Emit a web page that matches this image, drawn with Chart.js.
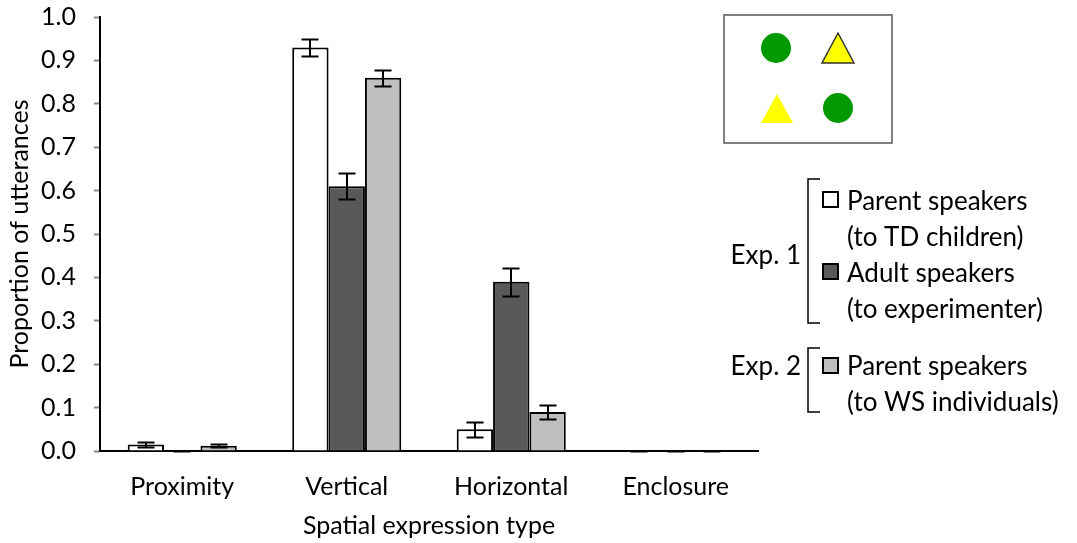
<!DOCTYPE html>
<html>
<head>
<meta charset="utf-8">
<script src="https://cdn.jsdelivr.net/npm/chart.js@4/dist/chart.umd.min.js"></script>
<style>
  html, body { margin: 0; padding: 0; background: #ffffff; }
  #wrap { width: 1077px; height: 543px; position: relative; }
</style>
</head>
<body>
<div id="wrap"><canvas id="c" width="1077" height="543"></canvas></div>
<script>
// Spatial expression types on the x axis
const categories = ['Proximity', 'Vertical', 'Horizontal', 'Enclosure'];

// Exp. 1: parent speakers talking to TD children
const parentTD = [0.015, 0.93, 0.05, 0];
const parentTDErr = [0.005, 0.019, 0.017, 0];

// Exp. 1: adult speakers talking to the experimenter
const adultExp = [0.001, 0.61, 0.39, 0];
const adultExpErr = [0, 0.03, 0.032, 0];

// Exp. 2: parent speakers talking to WS individuals
const parentWS = [0.012, 0.86, 0.09, 0];
const parentWSErr = [0.003, 0.018, 0.016, 0];

// y tick labels
const yTicks = ['0.0', '0.1', '0.2', '0.3', '0.4', '0.5', '0.6', '0.7', '0.8', '0.9', '1.0'];

// key text
const keyNames = ['Parent speakers', 'Adult speakers', 'Parent speakers'];
const keySubs = ['(to TD children)', '(to experimenter)', '(to WS individuals)'];
const keyGroups = ['Exp. 1', 'Exp. 2'];

const FONT = 'Lato, "Open Sans", sans-serif';
const fills = ['#ffffff', '#595959', '#bfbfbf'];

// error whiskers with caps drawn on top of every bar
const errorBars = {
  id: 'errorBars',
  afterDatasetsDraw(chart) {
    const ctx = chart.ctx;
    const y = chart.scales.y;
    ctx.save();
    ctx.strokeStyle = '#000';
    ctx.lineWidth = 2;
    chart.data.datasets.forEach((ds, i) => {
      const meta = chart.getDatasetMeta(i);
      meta.data.forEach((bar, j) => {
        const v = ds.data[j];
        const e = ds.errors[j];
        const top = Math.round(y.getPixelForValue(v + e)) + 0.5;
        const bot = Math.round(y.getPixelForValue(Math.max(0, v - e))) + 0.5;
        const x = Math.round(bar.x);
        const half = 8.5;
        ctx.beginPath();
        ctx.moveTo(x, top); ctx.lineTo(x, bot);
        ctx.moveTo(x - half, top); ctx.lineTo(x + half, top);
        ctx.moveTo(x - half, bot); ctx.lineTo(x + half, bot);
        ctx.stroke();
      });
    });
    ctx.restore();
  }
};

// bracketed key on the right and the stimulus inset above it
const sideNotes = {
  id: 'sideNotes',
  afterDraw(chart) {
    const ctx = chart.ctx;
    ctx.save();

    // stimulus inset
    ctx.strokeStyle = '#808080';
    ctx.lineWidth = 2;
    ctx.strokeRect(724, 15, 168, 128);
    ctx.fillStyle = '#009900';
    ctx.beginPath(); ctx.arc(776, 48, 15, 0, Math.PI * 2); ctx.fill();
    ctx.beginPath(); ctx.arc(838, 108, 15, 0, Math.PI * 2); ctx.fill();
    ctx.fillStyle = '#ffff00';
    ctx.beginPath(); ctx.moveTo(838, 33); ctx.lineTo(854, 63); ctx.lineTo(822, 63); ctx.closePath();
    ctx.fill();
    ctx.strokeStyle = '#333333'; ctx.lineWidth = 1.5; ctx.stroke();
    ctx.beginPath(); ctx.moveTo(777, 94); ctx.lineTo(793, 123); ctx.lineTo(761, 123); ctx.closePath();
    ctx.fill();

    // brackets
    ctx.strokeStyle = '#000';
    ctx.lineWidth = 1.5;
    const bracket = (y0, y1) => {
      ctx.beginPath();
      ctx.moveTo(820, y0); ctx.lineTo(808, y0); ctx.lineTo(808, y1); ctx.lineTo(820, y1);
      ctx.stroke();
    };
    bracket(179, 323);
    bracket(348, 412);

    ctx.fillStyle = '#000';
    ctx.font = '26px ' + FONT;
    ctx.textBaseline = 'middle';
    ctx.textAlign = 'right';
    ctx.fillText(keyGroups[0], 801, 256);
    ctx.fillText(keyGroups[1], 801, 367);

    // swatches and series names
    const rows = [
      { sw: 192, name: 202, sub: 238 },
      { sw: 264, name: 274, sub: 310 },
      { sw: 358, name: 367, sub: 403 }
    ];
    ctx.textAlign = 'left';
    rows.forEach((r, i) => {
      ctx.fillStyle = fills[i];
      ctx.fillRect(823, r.sw, 15, 15);
      ctx.strokeStyle = '#000';
      ctx.lineWidth = 2;
      ctx.strokeRect(823, r.sw, 15, 15);
      ctx.fillStyle = '#000';
      ctx.fillText(keyNames[i], 847, r.name);
      ctx.fillText(keySubs[i], 847, r.sub);
    });
    ctx.restore();
  }
};

new Chart(document.getElementById('c'), {
  type: 'bar',
  data: {
    labels: categories,
    datasets: [
      { label: keyNames[0] + ' ' + keySubs[0], data: parentTD, errors: parentTDErr, backgroundColor: fills[0] },
      { label: keyNames[1] + ' ' + keySubs[1], data: adultExp, errors: adultExpErr, backgroundColor: fills[1] },
      { label: keyNames[2] + ' ' + keySubs[2], data: parentWS, errors: parentWSErr, backgroundColor: fills[2] }
    ].map(d => Object.assign(d, {
      borderColor: '#000000',
      borderWidth: 2,
      barPercentage: 1.0,
      categoryPercentage: 0.663
    }))
  },
  options: {
    responsive: false,
    animation: false,
    devicePixelRatio: 1,
    layout: { padding: { left: 0, right: 319, top: 17, bottom: 0 } },
    plugins: { legend: { display: false }, tooltip: { enabled: false } },
    scales: {
      x: {
        grid: { display: false, drawTicks: false },
        border: { color: '#000000', width: 2 },
        ticks: { color: '#000', font: { family: FONT, size: 25 }, padding: 21, maxRotation: 0 },
        title: { display: true, text: 'Spatial expression type', color: '#000',
                 font: { family: FONT, size: 25 }, padding: { top: 0, bottom: 2 } },
        afterFit(scale) { scale.height = 92; scale.paddingLeft = 0; scale.paddingRight = 0; }
      },
      y: {
        min: 0, max: 1,
        grid: { drawOnChartArea: false, drawTicks: true, tickLength: 6, tickColor: '#888888', tickWidth: 2 },
        border: { color: '#000000', width: 2 },
        ticks: { stepSize: 0.1, color: '#000', font: { family: FONT, size: 25 }, padding: 18,
                 callback: (v, i) => yTicks[i] },
        title: { display: true, text: 'Proportion of utterances', color: '#000',
                 font: { family: FONT, size: 25 }, padding: { top: 5, bottom: 0 } },
        afterFit(scale) { scale.width = 100; scale.paddingTop = 0; scale.paddingBottom = 0; }
      }
    }
  },
  plugins: [errorBars, sideNotes]
});
</script>
</body>
</html>
